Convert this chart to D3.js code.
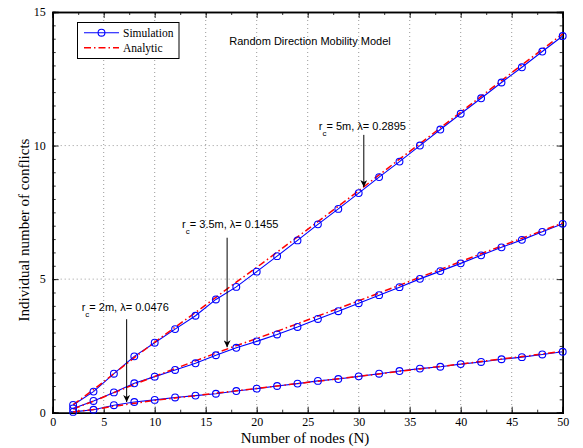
<!DOCTYPE html>
<html><head><meta charset="utf-8">
<script src="https://cdn.jsdelivr.net/npm/d3@7"></script>
<style>body{margin:0;background:#fff}svg{display:block}</style>
</head><body>
<svg id="c" width="583" height="448"></svg>
<script>
const nodes = [2,4,6,8,10,12,14,16,18,20,22,24,26,28,30,32,34,36,38,40,42,44,46,48,50];
const sim5 = [0.29,0.79,1.46,2.11,2.62,3.13,3.63,4.24,4.71,5.28,5.86,6.45,7.05,7.63,8.22,8.82,9.40,10.0,10.60,11.19,11.77,12.36,12.93,13.52,14.10];
const ana5 = [0.30,0.86,1.46,2.06,2.64,3.20,3.75,4.32,4.89,5.44,6.01,6.58,7.15,7.73,8.31,8.90,9.49,10.07,10.66,11.25,11.84,12.43,13.02,13.60,14.18];
const sim35 = [0.16,0.44,0.76,1.10,1.35,1.60,1.85,2.15,2.43,2.67,2.93,3.21,3.51,3.80,4.10,4.40,4.70,5.01,5.30,5.59,5.89,6.19,6.47,6.77,7.07];
const ana35 = [0.14,0.43,0.75,1.06,1.36,1.65,1.94,2.23,2.51,2.78,3.05,3.33,3.62,3.90,4.19,4.48,4.77,5.07,5.36,5.66,5.95,6.24,6.53,6.81,7.10];
const sim2 = [0.03,0.11,0.28,0.40,0.48,0.57,0.64,0.71,0.81,0.90,1.00,1.09,1.19,1.26,1.36,1.46,1.56,1.65,1.72,1.82,1.90,2.00,2.08,2.18,2.28];
const ana2 = [0.03,0.12,0.24,0.35,0.46,0.55,0.64,0.73,0.82,0.91,1.00,1.09,1.18,1.27,1.36,1.45,1.55,1.64,1.73,1.82,1.92,2.01,2.10,2.20,2.30];
const xTicks = [0,5,10,15,20,25,30,35,40,45,50];
const yTicks = [0,5,10,15];
const title = "Random Direction Mobility Model";
const xLabel = "Number of nodes (N)";
const yLabel = "Individual number of conflicts";
const legendLabels = ["Simulation","Analytic"];
const annotations = [
  {sub:"c", rc:"= 5m, ", lam:"λ= 0.2895", x:30.5, ty:10.6, y0:10.4, y1:8.45},
  {sub:"c", rc:"= 3.5m, ", lam:"λ= 0.1455", x:17.1, ty:6.9, y0:6.55, y1:2.45},
  {sub:"c", rc:"= 2m, ", lam:"λ= 0.0476", x:7.25, ty:3.8, y0:3.5, y1:0.4}
];

const svg = d3.select("#c");
const L=52.7, R=562.7, T=12, B=412.7;
const x = d3.scaleLinear().domain([0,50]).range([L,R]);
const y = d3.scaleLinear().domain([0,15]).range([B,T]);
const serif = "'Liberation Serif','Times New Roman',serif";
const sans = "'Liberation Sans',Arial,Helvetica,sans-serif";

// grid
const g = svg.append("g");
g.selectAll(".gx").data(xTicks.slice(1,-1)).enter().append("line")
  .attr("x1",d=>x(d)).attr("x2",d=>x(d)).attr("y1",T).attr("y2",B)
  .attr("stroke","#555").attr("stroke-width",0.6).attr("stroke-dasharray","1,3");
g.selectAll(".gy").data(yTicks.slice(1,-1)).enter().append("line")
  .attr("y1",d=>y(d)).attr("y2",d=>y(d)).attr("x1",L).attr("x2",R)
  .attr("stroke","#555").attr("stroke-width",0.6).attr("stroke-dasharray","1,3");

// axes with inward ticks
const xMinor = d3.range(0,50.01,2.5);
const yMinor = d3.range(0,15.01,0.5);
const axB = d3.axisBottom(x).tickValues(xTicks).tickSize(-6).tickPadding(5).tickFormat(d3.format("d"));
const axL = d3.axisLeft(y).tickValues(yTicks).tickSize(-6).tickPadding(7).tickFormat(d3.format("d"));
const gb = svg.append("g").attr("transform",`translate(0,${B})`).call(axB);
const gl = svg.append("g").attr("transform",`translate(${L},0)`).call(axL);
svg.append("g").attr("transform",`translate(0,${T})`).call(d3.axisTop(x).tickValues(xTicks).tickSize(-6).tickFormat(""));
svg.append("g").attr("transform",`translate(${R},0)`).call(d3.axisRight(y).tickValues(yTicks).tickSize(-6).tickFormat(""));
svg.append("g").attr("transform",`translate(0,${B})`).call(d3.axisBottom(x).tickValues(xMinor).tickSize(-3).tickFormat(""));
svg.append("g").attr("transform",`translate(0,${T})`).call(d3.axisTop(x).tickValues(xMinor).tickSize(-3).tickFormat(""));
svg.append("g").attr("transform",`translate(${L},0)`).call(d3.axisLeft(y).tickValues(yMinor).tickSize(-3).tickFormat(""));
svg.append("g").attr("transform",`translate(${R},0)`).call(d3.axisRight(y).tickValues(yMinor).tickSize(-3).tickFormat(""));
svg.selectAll(".domain").attr("stroke","#000").attr("stroke-width",1.5);
svg.selectAll(".tick line").attr("stroke","#000").attr("stroke-width",0.8);
svg.selectAll(".tick text").attr("font-family",serif).attr("font-size",12).attr("fill","#000");

// series
const line = d3.line().x(d=>x(d[0])).y(d=>y(d[1]));
const series = [[sim5,ana5],[sim35,ana35],[sim2,ana2]];
series.forEach(([s,a])=>{
  const sd = nodes.map((n,i)=>[n,s[i]]);
  const ad = nodes.map((n,i)=>[n,a[i]]);
  svg.append("path").datum(sd).attr("d",line).attr("fill","none").attr("stroke","#0000ff").attr("stroke-width",1.1);
  svg.append("path").datum(ad).attr("d",line).attr("fill","none").attr("stroke","#ff0000").attr("stroke-width",1.5).attr("stroke-dasharray","7,3,1.5,3");
  svg.append("g").selectAll("circle").data(sd).enter().append("circle")
    .attr("cx",d=>x(d[0])).attr("cy",d=>y(d[1])).attr("r",3.4)
    .attr("fill","none").attr("stroke","#0000ff").attr("stroke-width",1.1);
});

// title
svg.append("text").attr("x",310).attr("y",45).attr("text-anchor","middle")
  .attr("font-family",sans).attr("font-size",11).text(title);

// annotations
svg.append("defs").append("marker").attr("id","ah").attr("viewBox","0 0 10 10")
  .attr("refX",10).attr("refY",5).attr("markerWidth",7).attr("markerHeight",7)
  .attr("markerUnits","userSpaceOnUse").attr("orient","auto")
  .append("path").attr("d","M0,0 L10,5 L0,10 L3,5 Z").attr("fill","#000");
annotations.forEach(a=>{
  const t = svg.append("text").attr("x",x(a.x)-45).attr("y",y(a.ty))
    .attr("font-family",sans).attr("font-size",11).attr("fill","#000");
  t.append("tspan").text("r");
  t.append("tspan").attr("dy",6).attr("font-size",8).text(a.sub);
  t.append("tspan").attr("dy",-6).text(a.rc + a.lam);
  svg.append("line").attr("x1",x(a.x)).attr("x2",x(a.x)).attr("y1",y(a.y0)).attr("y2",y(a.y1))
    .attr("stroke","#000").attr("stroke-width",1).attr("marker-end","url(#ah)");
});

// legend
const lg = svg.append("g");
lg.append("rect").attr("x",77.5).attr("y",22.5).attr("width",101.5).attr("height",36)
  .attr("fill","#fff").attr("stroke","#000").attr("stroke-width",1);
lg.append("line").attr("x1",84).attr("x2",119).attr("y1",32.7).attr("y2",32.7).attr("stroke","#0000ff").attr("stroke-width",1.1);
lg.append("circle").attr("cx",101.5).attr("cy",32.7).attr("r",3.4).attr("fill","none").attr("stroke","#0000ff").attr("stroke-width",1.1);
lg.append("line").attr("x1",84).attr("x2",119).attr("y1",47.7).attr("y2",47.7).attr("stroke","#ff0000").attr("stroke-width",1.5).attr("stroke-dasharray","7,3,1.5,3");
lg.append("text").attr("x",123).attr("y",36.5).attr("font-family",serif).attr("font-size",11.5).text(legendLabels[0]);
lg.append("text").attr("x",123).attr("y",51.5).attr("font-family",serif).attr("font-size",11.5).text(legendLabels[1]);

// axis labels
svg.append("text").attr("x",305).attr("y",443).attr("text-anchor","middle")
  .attr("font-family",serif).attr("font-size",15).text(xLabel);
svg.append("text").attr("transform",`translate(29,230) rotate(-90)`).attr("text-anchor","middle")
  .attr("font-family",serif).attr("font-size",15).text(yLabel);
</script>
</body></html>
